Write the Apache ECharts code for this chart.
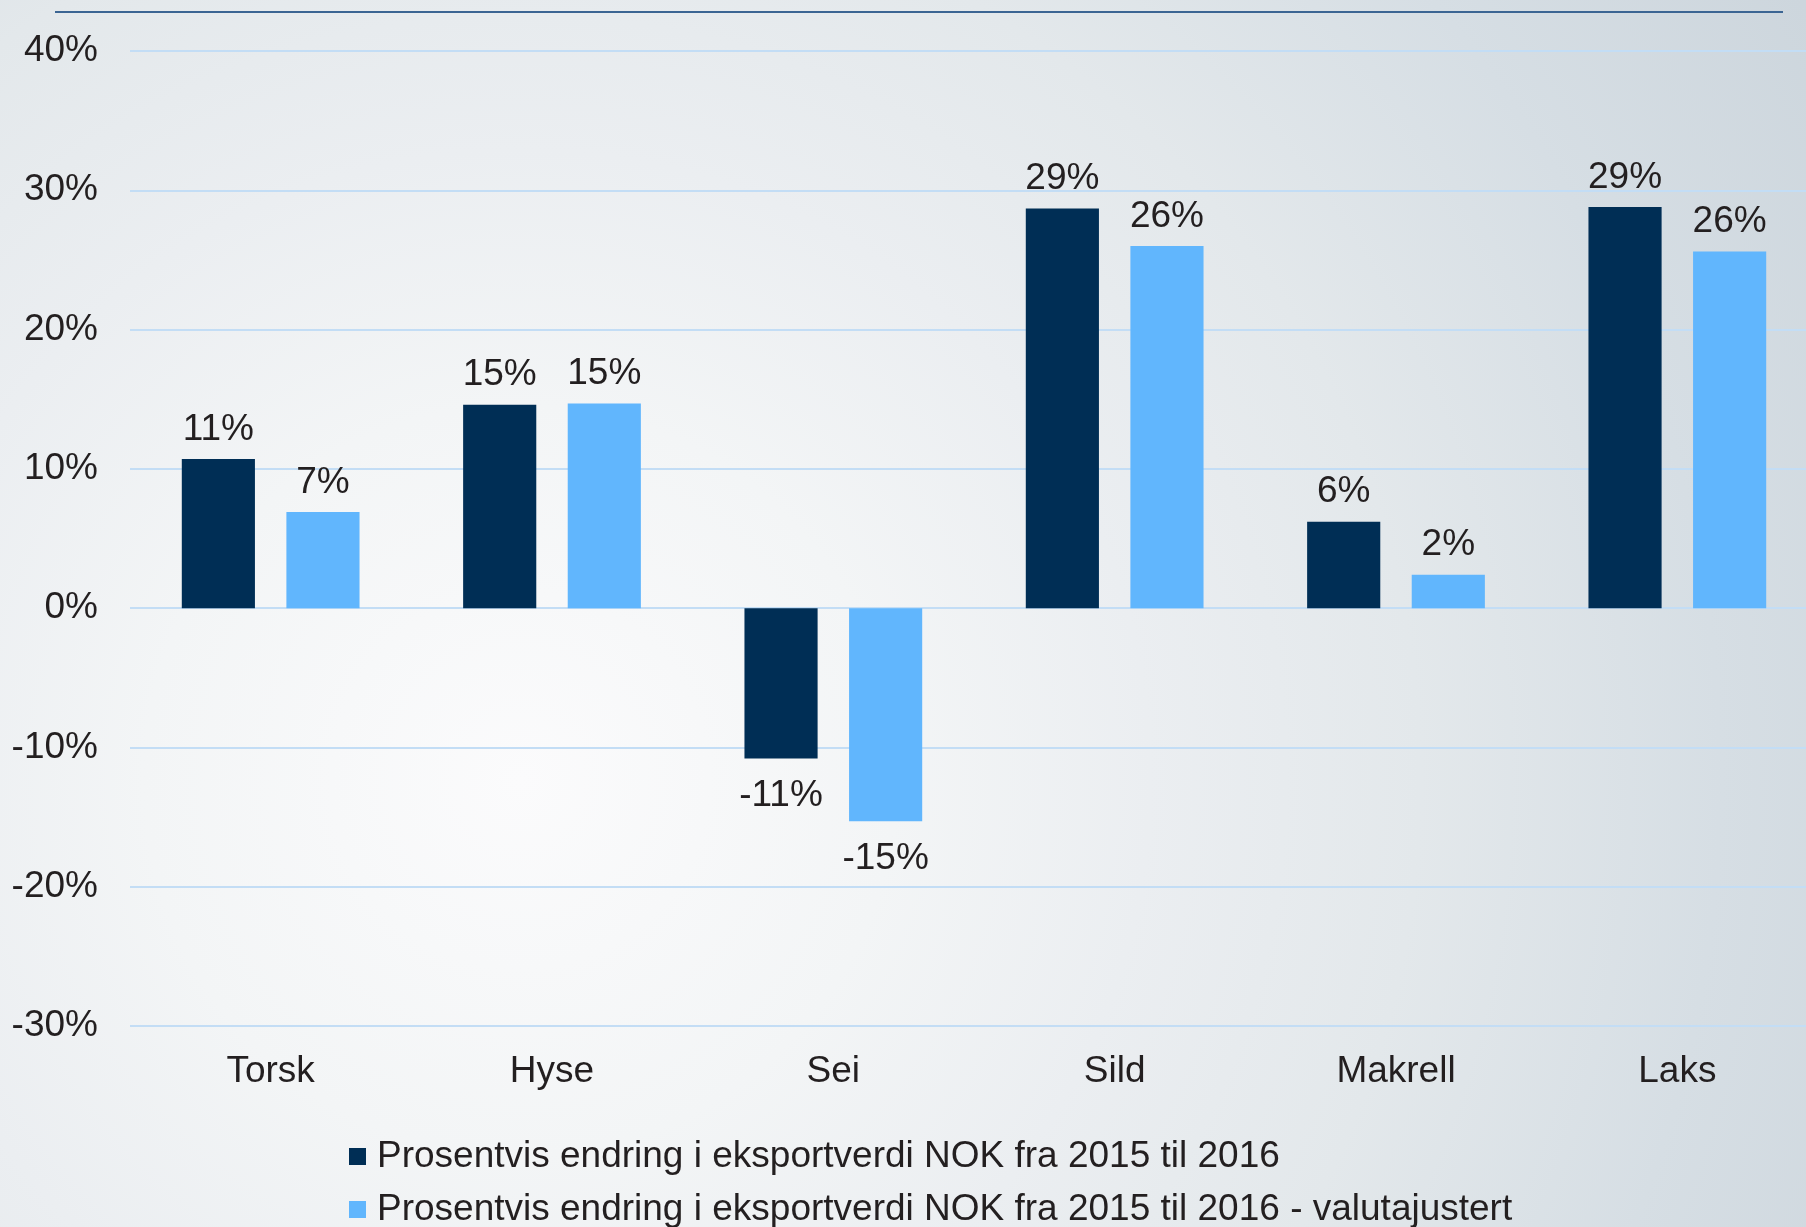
<!DOCTYPE html>
<html>
<head>
<meta charset="utf-8">
<script src="https://cdn.jsdelivr.net/npm/echarts@6/dist/echarts.min.js"></script>
<style>
html,body{margin:0;padding:0;width:1806px;height:1227px;overflow:hidden;}
#c{width:1806px;height:1227px;}
</style>
</head>
<body>
<div id="c"></div>
<script>
const categories = ['Torsk', 'Hyse', 'Sei', 'Sild', 'Makrell', 'Laks'];
const seriesNames = [
  'Prosentvis endring i eksportverdi NOK fra 2015 til 2016',
  'Prosentvis endring i eksportverdi NOK fra 2015 til 2016 - valutajustert'
];
const nokChange = [10.7, 14.6, -10.8, 28.7, 6.2, 28.8];
const nokChangeAdjusted = [6.9, 14.7, -15.3, 26.0, 2.4, 25.6];
const yMin = -30, yMax = 40, yStep = 10;

const FONT = '"Liberation Sans", Arial, sans-serif';
const TXT = '#231f20';

const chart = echarts.init(document.getElementById('c'));
const labelCfg = {
  show: true,
  position: 'outside',
  distance: 11,
  fontFamily: FONT,
  fontSize: 37,
  color: TXT,
  formatter: p => Math.round(p.value) + '%'
};
const withNegDistance = arr => arr.map(v => v < 0 ? {value: v, label: {distance: 19}} : v);
const legendText = {fontFamily: FONT, fontSize: 37, color: TXT, padding: [0, 0, 0, 6]};
chart.setOption({
  backgroundColor: new echarts.graphic.RadialGradient(520, 780, 1500, [
    {offset: 0, color: '#fbfbfc'},
    {offset: 0.25, color: '#f3f5f6'},
    {offset: 0.42, color: '#ebeef1'},
    {offset: 0.6, color: '#e3e8eb'},
    {offset: 0.8, color: '#d6dee4'},
    {offset: 1, color: '#cdd6dd'}
  ], true),
  animation: false,
  textStyle: {fontFamily: FONT},
  graphic: [{
    type: 'line',
    shape: {x1: 55, y1: 12, x2: 1783, y2: 12},
    style: {stroke: '#3b6593', lineWidth: 2}
  }],
  grid: {left: 130, width: 1688, top: 51, bottom: 201, containLabel: false, outerBoundsMode: 'none'},
  legend: [
    {
      left: 344, top: 1133,
      itemWidth: 17, itemHeight: 17, icon: 'rect',
      textStyle: legendText,
      data: [seriesNames[0]]
    },
    {
      left: 344, top: 1186,
      itemWidth: 17, itemHeight: 17, icon: 'rect',
      textStyle: legendText,
      data: [seriesNames[1]]
    }
  ],
  xAxis: {
    type: 'category',
    data: categories,
    position: 'bottom',
    axisLine: {show: false, onZero: false},
    axisTick: {show: false},
    axisLabel: {fontFamily: FONT, fontSize: 37, color: TXT, margin: 27}
  },
  yAxis: {
    type: 'value',
    min: yMin, max: yMax, interval: yStep,
    axisLine: {show: false},
    axisTick: {show: false},
    axisLabel: {fontFamily: FONT, fontSize: 37, color: TXT, margin: 32, formatter: '{value}%', padding: [5, 0, 0, 0]},
    splitLine: {lineStyle: {color: '#c3ddf5', width: 2}}
  },
  series: [
    {
      name: seriesNames[0], type: 'bar', data: withNegDistance(nokChange),
      barWidth: '26%', barGap: '43%',
      itemStyle: {color: '#002e55'},
      label: labelCfg
    },
    {
      name: seriesNames[1], type: 'bar', data: withNegDistance(nokChangeAdjusted),
      barWidth: '26%', barGap: '43%',
      itemStyle: {color: '#61b6fd'},
      label: labelCfg
    }
  ]
});
</script>
</body>
</html>
